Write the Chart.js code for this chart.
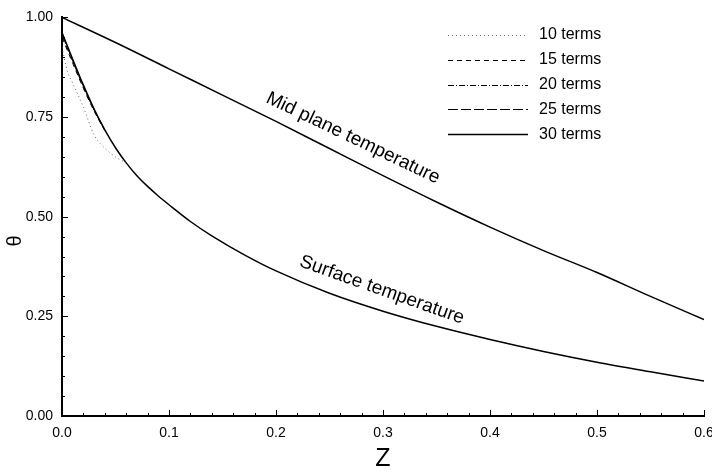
<!DOCTYPE html>
<html>
<head>
<meta charset="utf-8">
<script src="https://cdn.jsdelivr.net/npm/chart.js@4/dist/chart.umd.min.js"></script>
<style>
  html, body { margin: 0; padding: 0; background: #fff; }
  #wrap { width: 712px; height: 471px; position: relative; }
</style>
</head>
<body>
<div id="wrap"><canvas id="chart"></canvas></div>
<script>
// series truncated at different numbers of terms
const termLabels = ['10 terms', '15 terms', '20 terms', '25 terms', '30 terms'];

// surface temperature, 30 terms (full range)
const zSurface = [0, 0.01, 0.02, 0.03, 0.04, 0.05, 0.06, 0.07, 0.08, 0.09, 0.10,
  0.12, 0.14, 0.17, 0.20, 0.25, 0.30, 0.35, 0.40, 0.45, 0.50, 0.55, 0.60];
const thetaSurface30 = [0.962, 0.895, 0.83, 0.77, 0.718, 0.673, 0.635, 0.603, 0.576, 0.552, 0.53,
  0.488, 0.452, 0.405, 0.364, 0.308, 0.263, 0.225, 0.192, 0.162, 0.135, 0.111, 0.088];

// mid plane temperature, 30 terms
const zMid = [0, 0.05, 0.10, 0.15, 0.20, 0.25, 0.30, 0.35, 0.40, 0.45, 0.50, 0.55, 0.60];
const thetaMid30 = [1.0, 0.937, 0.871, 0.805, 0.739, 0.671, 0.603, 0.537, 0.474, 0.415, 0.36, 0.30, 0.242];

// near the surface the shorter series split off from the 30-term one
const zNear = [0, 0.01, 0.02, 0.03, 0.04];
const thetaSurface15 = [0.95, 0.885, 0.822, 0.765, 0.716];
const thetaSurface20 = [0.955, 0.89, 0.826, 0.768, 0.717];
const thetaSurface25 = [0.958, 0.892, 0.828, 0.769, 0.718];

const z10 = [0, 0.005, 0.01, 0.02, 0.03, 0.04, 0.05, 0.06];
const thetaSurface10 = [0.925, 0.865, 0.835, 0.775, 0.705, 0.672, 0.65, 0.635];

// axis tick labels
const xTicks = [0, 0.1, 0.2, 0.3, 0.4, 0.5, 0.6];
const yTicks = [0, 0.25, 0.5, 0.75, 1.0];

const pts = (xs, ys) => xs.map((x, i) => ({ x, y: ys[i] }));

const lineStyles = {
  '10 terms': { color: '#666', dash: [1, 3], width: 1 },
  '15 terms': { color: '#000', dash: [5, 4], width: 1 },
  '20 terms': { color: '#000', dash: [6, 2, 1, 2], width: 1 },
  '25 terms': { color: '#000', dash: [10, 3], width: 1 },
  '30 terms': { color: '#000', dash: [], width: 1.5 },
};

const makeSet = (label, data) => ({
  label,
  data,
  borderColor: lineStyles[label].color,
  borderDash: lineStyles[label].dash,
  borderWidth: lineStyles[label].width,
  pointRadius: 0,
  fill: false,
  cubicInterpolationMode: 'monotone',
});

const datasets = [
  makeSet('10 terms', pts(z10, thetaSurface10)),
  makeSet('15 terms', pts(zNear, thetaSurface15)),
  makeSet('20 terms', pts(zNear, thetaSurface20)),
  makeSet('25 terms', pts(zNear, thetaSurface25)),
  makeSet('30 terms', pts(zSurface, thetaSurface30)),
  makeSet('30 terms', pts(zMid, thetaMid30)),
];

const font = '"Liberation Sans", Arial, sans-serif';

// inward tick marks, curve captions, theta label and the term legend
const decorations = {
  id: 'decorations',
  afterDraw(chart) {
    const { ctx, scales: { x, y } } = chart;
    const xAxisY = y.getPixelForValue(0);
    const yAxisX = x.getPixelForValue(0);

    ctx.save();
    ctx.strokeStyle = '#000';
    ctx.lineWidth = 1;
    ctx.beginPath();
    for (let i = 1; i <= 30; i++) {
      const px = Math.round(x.getPixelForValue(i * 0.02)) + 0.5;
      const len = i % 5 === 0 ? 6 : 3;
      ctx.moveTo(px, xAxisY);
      ctx.lineTo(px, xAxisY - len);
    }
    for (let i = 1; i <= 20; i++) {
      const py = Math.round(y.getPixelForValue(i * 0.05)) + 0.5;
      const len = i % 5 === 0 ? 6 : 3;
      ctx.moveTo(yAxisX, py);
      ctx.lineTo(yAxisX + len, py);
    }
    ctx.stroke();

    // captions along the curves
    ctx.fillStyle = '#000';
    ctx.font = '19px ' + font;
    ctx.textAlign = 'center';
    ctx.textBaseline = 'middle';
    const caption = (text, zv, tv, deg) => {
      ctx.save();
      ctx.translate(x.getPixelForValue(zv), y.getPixelForValue(tv));
      ctx.rotate(deg * Math.PI / 180);
      ctx.fillText(text, 0, 0);
      ctx.restore();
    };
    caption('Mid plane temperature', 0.272, 0.697, 25.5);
    caption('Surface temperature', 0.299, 0.316, 19.5);

    // y axis symbol
    ctx.save();
    ctx.font = '20px ' + font;
    ctx.translate(15, 241);
    ctx.rotate(-Math.PI / 2);
    ctx.fillText('θ', 0, 0);
    ctx.restore();

    // legend
    ctx.font = '16px ' + font;
    ctx.textAlign = 'left';
    termLabels.forEach((label, i) => {
      const st = lineStyles[label];
      const ly = 35 + i * 24.8;
      ctx.save();
      ctx.strokeStyle = st.color;
      ctx.lineWidth = st.width;
      ctx.setLineDash(st.dash);
      ctx.beginPath();
      ctx.moveTo(448, Math.round(ly) + 0.5);
      ctx.lineTo(528, Math.round(ly) + 0.5);
      ctx.stroke();
      ctx.restore();
      ctx.fillText(label, 539, ly);
    });
    ctx.restore();
  }
};

new Chart(document.getElementById('chart'), {
  type: 'line',
  data: { datasets },
  plugins: [decorations],
  options: {
    animation: false,
    responsive: true,
    maintainAspectRatio: false,
    layout: { padding: { top: 16, right: 8, left: 0, bottom: 0 } },
    plugins: { legend: { display: false }, tooltip: { enabled: false } },
    scales: {
      x: {
        type: 'linear',
        min: 0,
        max: 0.6,
        grid: { display: false, drawTicks: false },
        border: { color: '#000', width: 2 },
        afterBuildTicks: (scale) => { scale.ticks = xTicks.map(v => ({ value: v })); },
        afterFit: (scale) => {
          scale.height = 55;
          scale.paddingLeft = 0;
          scale.paddingRight = 0;
        },
        ticks: {
          color: '#000',
          padding: 9,
          maxRotation: 0,
          font: { size: 14, family: font },
          callback: (v) => Number(v).toFixed(1),
        },
        title: {
          display: true,
          text: 'Z',
          color: '#000',
          padding: 0,
          font: { size: 25, family: font, lineHeight: 0.95 },
        },
      },
      y: {
        type: 'linear',
        min: 0,
        max: 1,
        grid: { display: false, drawTicks: false },
        border: { color: '#000', width: 2 },
        afterBuildTicks: (scale) => { scale.ticks = yTicks.map(v => ({ value: v })); },
        afterFit: (scale) => { scale.width = 62; },
        ticks: {
          color: '#000',
          padding: 9,
          font: { size: 14, family: font },
          callback: (v) => Number(v).toFixed(2),
        },
      },
    },
  },
});
</script>
</body>
</html>
